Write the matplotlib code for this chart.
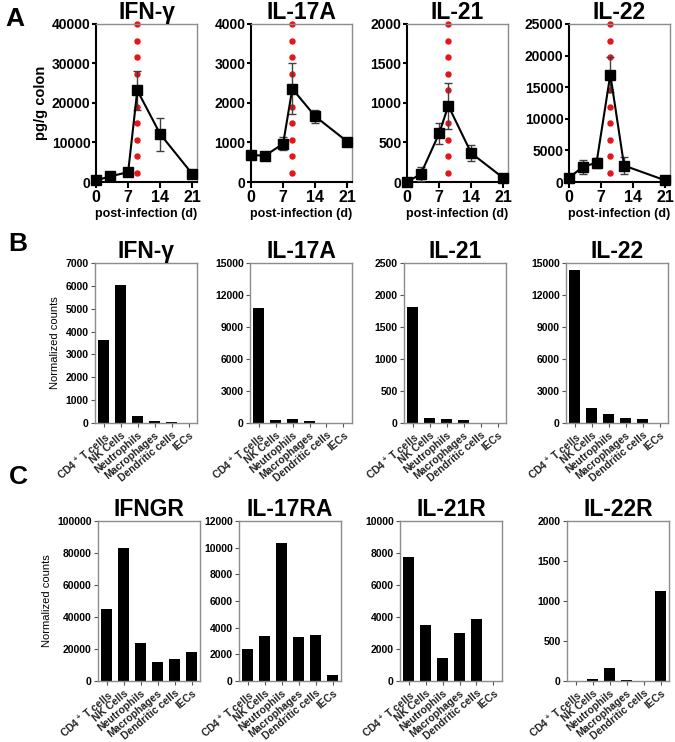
import matplotlib
matplotlib.use("Agg")
import matplotlib.pyplot as plt
import matplotlib.transforms as mtrans
import numpy as np

plt.rcParams['font.family'] = ['Liberation Sans', 'DejaVu Sans']
plt.rcParams['mathtext.fontset'] = 'custom'
plt.rcParams['mathtext.rm'] = 'Liberation Sans'
plt.rcParams['mathtext.it'] = 'Liberation Sans:italic'
plt.rcParams['mathtext.bf'] = 'Liberation Sans:bold'
plt.rcParams['mathtext.default'] = 'bf'

# panel A: protein in colon over time
a_titles = ["IFN-γ", "IL-17A", "IL-21", "IL-22"]
a_days = [[0, 3, 7, 9, 14, 21], [0, 3, 7, 9, 14, 21], [0, 3, 7, 9, 14, 21], [0, 3, 6, 9, 12, 21]]
a_vals = [[400, 1400, 2500, 23200, 12100, 2000],
          [690, 660, 970, 2360, 1660, 1020],
          [0, 100, 615, 965, 365, 50],
          [650, 2400, 3050, 17000, 2600, 250]]
a_err = [[200, 300, 450, 4900, 4200, 300],
         [50, 40, 170, 640, 170, 60],
         [10, 90, 130, 290, 100, 20],
         [200, 1100, 800, 2700, 1400, 100]]
a_ymax = [40000, 4000, 2000, 25000]
a_ystep = [10000, 1000, 500, 5000]
a_xticks = [0, 7, 14, 21]
peak_day = 9

cells = [r"CD4$^+$ T cells", "NK Cells", "Neutrophils", "Macrophages", "Dendritic cells", "IECs"]

# panel B: cytokine transcripts
b_titles = ["IFN-γ", "IL-17A", "IL-21", "IL-22"]
b_vals = [[3650, 6050, 290, 70, 50, 5],
          [10750, 250, 420, 170, 15, 10],
          [1820, 75, 60, 42, 3, 2],
          [14350, 1390, 820, 500, 380, 10]]
b_ymax = [7000, 15000, 2500, 15000]
b_ystep = [1000, 3000, 500, 3000]

# panel C: receptor transcripts
c_titles = ["IFNGR", "IL-17RA", "IL-21R", "IL-22R"]
c_vals = [[45000, 83000, 23600, 11900, 13800, 18000],
          [2380, 3390, 10380, 3310, 3420, 420],
          [7760, 3510, 1450, 2990, 3880, 15],
          [4, 28, 165, 12, 4, 1125]]
c_ymax = [100000, 12000, 10000, 2000]
c_ystep = [20000, 2000, 2000, 500]

W, H = 675, 742
fig = plt.figure(figsize=(W / 100, H / 100), dpi=100)


def px_axes(left, top, width, height):
    return fig.add_axes([left / W, 1 - (top + height) / H, width / W, height / H])


grey = '#8c8c8c'

a_lefts = [96, 251, 407, 569]
for i in range(4):
    ax = px_axes(a_lefts[i], 24, 101, 158)
    ax.errorbar(a_days[i], a_vals[i], yerr=a_err[i], color='black', lw=1.5,
                marker='s', ms=6.5, ecolor='#404040', elinewidth=1, capsize=3,
                capthick=1, clip_on=False, zorder=3)
    tr = mtrans.blended_transform_factory(ax.transData, ax.transAxes)
    ax.plot([peak_day] * 10, np.linspace(0.057, 1.0, 10), ls='none', marker='o',
            ms=3.6, color='#e8131b', transform=tr, clip_on=False, zorder=2)
    ax.set_xlim(0, 22)
    ax.set_ylim(0, a_ymax[i])
    ax.set_xticks(a_xticks)
    ax.set_yticks(np.arange(0, a_ymax[i] + 1, a_ystep[i]))
    for s in ['left', 'bottom']:
        ax.spines[s].set_linewidth(1.5)
    for s in ['top', 'right']:
        ax.spines[s].set_color(grey)
        ax.spines[s].set_linewidth(1)
    ax.tick_params(axis='y', length=3, width=1.5, pad=1, labelsize=10)
    ax.tick_params(axis='x', length=4, width=1.5, pad=2, labelsize=11.5)
    for lab in ax.get_xticklabels() + ax.get_yticklabels():
        lab.set_fontweight('bold')
    ax.set_title(a_titles[i], fontsize=16.5, fontweight='bold', pad=3)
    ax.set_xlabel("post-infection (d)", fontsize=9, fontweight='bold', labelpad=2)
    if i == 0:
        ax.set_ylabel("pg/g colon", fontsize=10.5, fontweight='bold', labelpad=3)


def bar_panel(left, top, vals, ymax, ystep, title, ylabel):
    ax = px_axes(left, top, 102, 160)
    ax.bar(range(len(cells)), vals, width=0.68, color='black')
    ax.set_xlim(-0.5, 5.5)
    ax.set_ylim(0, ymax)
    ax.set_yticks(np.arange(0, ymax + 1, ystep))
    ax.set_xticks(range(len(cells)))
    ax.set_xticklabels(cells, rotation=40, ha='right', rotation_mode='anchor',
                       fontsize=6.8, fontweight='bold', color='#222222')
    for s in ax.spines.values():
        s.set_color(grey)
        s.set_linewidth(1)
    ax.tick_params(length=3, width=0.8, color='#555555', pad=1.5, labelsize=7.5)
    ax.tick_params(axis='x', pad=2)
    for lab in ax.get_yticklabels():
        lab.set_fontweight('bold')
    ax.set_title(title, fontsize=16.5, fontweight='bold', pad=1)
    if ylabel:
        ax.set_ylabel("Normalized counts", fontsize=8, labelpad=4)
    return ax


b_lefts = [95, 250, 404, 566]
for i in range(4):
    bar_panel(b_lefts[i], 263, b_vals[i], b_ymax[i], b_ystep[i], b_titles[i], i == 0)

c_lefts = [98, 239, 400, 567]
for i in range(4):
    bar_panel(c_lefts[i], 521, c_vals[i], c_ymax[i], c_ystep[i], c_titles[i], i == 0)

fig.text(5 / W, 1 - 26 / H, "A", fontsize=19, fontweight='bold')
fig.text(8 / W, 1 - 251 / H, "B", fontsize=19, fontweight='bold')
fig.text(9 / W, 1 - 484 / H, "C", fontsize=19, fontweight='bold')

fig.savefig("out.png", dpi=100)
